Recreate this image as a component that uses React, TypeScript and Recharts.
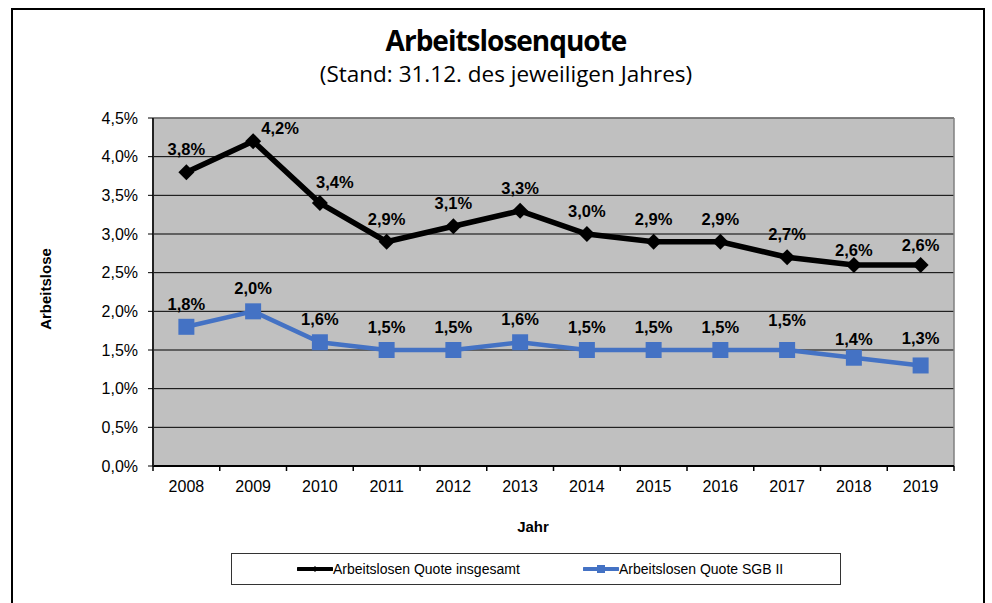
import React from "react";
import {
  LineChart, Line, XAxis, YAxis, CartesianGrid, ReferenceLine, LabelList,
} from "recharts";

const years = ["2008", "2009", "2010", "2011", "2012", "2013", "2014", "2015", "2016", "2017", "2018", "2019"];
const quoteInsgesamt = [3.8, 4.2, 3.4, 2.9, 3.1, 3.3, 3.0, 2.9, 2.9, 2.7, 2.6, 2.6];
const quoteSgb2 = [1.8, 2.0, 1.6, 1.5, 1.5, 1.6, 1.5, 1.5, 1.5, 1.5, 1.4, 1.3];
const yTicks = [0, 0.5, 1, 1.5, 2, 2.5, 3, 3.5, 4, 4.5];

const W = 992;
const H = 603;
const PLOT = { left: 153, right: 954, top: 118, bottom: 466 };
const BAND = (PLOT.right - PLOT.left) / years.length;
const ARIAL = "'Liberation Sans', Arial, sans-serif";
const BLUE = "#4472C4";

const data = years.map((year, i) => ({
  x: i,
  year,
  total: quoteInsgesamt[i],
  sgb: quoteSgb2[i],
}));

const pct = (v: number) => v.toFixed(1).replace(".", ",") + "%";

// label nudges (Excel labels that were moved by hand)
const nudgeTotal: Record<number, [number, number]> = {
  1: [27, -13], 2: [15, -21], 10: [0, -15], 11: [0, -20],
};
const nudgeSgb: Record<number, [number, number]> = {
  9: [0, -30], 10: [0, -19], 11: [0, -27],
};

const makeLabel = (nudge: Record<number, [number, number]>) => (props: any) => {
  const { x, y, value, index } = props;
  const [dx, dy] = nudge[index] ?? [0, -23];
  return (
    <text
      x={x + dx}
      y={y + dy + 6}
      textAnchor="middle"
      fontFamily={ARIAL}
      fontWeight="bold"
      fontSize={16.5}
      fill="#000"
    >
      {pct(value)}
    </text>
  );
};

const Diamond = (props: any) => {
  const { cx, cy } = props;
  if (cx == null || cy == null) return null;
  const r = 8;
  return (
    <polygon
      points={`${cx},${cy - r} ${cx + r},${cy} ${cx},${cy + r} ${cx - r},${cy}`}
      fill="#000"
    />
  );
};

const Square = (props: any) => {
  const { cx, cy } = props;
  if (cx == null || cy == null) return null;
  const s = 16;
  return <rect x={cx - s / 2} y={cy - s / 2} width={s} height={s} fill={BLUE} />;
};

const YearTick = (props: any) => {
  const { x, y, payload, index } = props;
  const last = index === years.length - 1;
  return (
    <g>
      <line x1={x - BAND / 2} y1={y} x2={x - BAND / 2} y2={y + 5} stroke="#000" strokeWidth={1.5} />
      {last && <line x1={x + BAND / 2} y1={y} x2={x + BAND / 2} y2={y + 5} stroke="#000" strokeWidth={1.5} />}
      <text x={x} y={y + 26} textAnchor="middle" fontFamily={ARIAL} fontSize={16} fill="#000">
        {years[payload.value]}
      </text>
    </g>
  );
};

function LegendBox() {
  const item = (label: string, color: string, marker: "diamond" | "square") => (
    <div style={{ display: "flex", alignItems: "center" }}>
      <svg width={36} height={12}>
        <line x1={1} y1={6} x2={35} y2={6} stroke={color} strokeWidth={4} strokeLinecap="round" />
        {marker === "diamond" ? (
          <polygon points="18,3 21,6 18,9 15,6" fill={color} />
        ) : (
          <rect x={14} y={2} width={8} height={8} fill={color} />
        )}
      </svg>
      <span>{label}</span>
    </div>
  );
  return (
    <div
      style={{
        position: "absolute", left: 231, top: 553, width: 610, height: 32,
        boxSizing: "border-box", border: "1px solid #333", background: "#fff",
        display: "flex", alignItems: "center", fontFamily: ARIAL, fontSize: 14, color: "#000",
      }}
    >
      <div style={{ position: "absolute", left: 65 }}>{item("Arbeitslosen Quote insgesamt", "#000", "diamond")}</div>
      <div style={{ position: "absolute", left: 351 }}>{item("Arbeitslosen Quote SGB II", BLUE, "square")}</div>
    </div>
  );
}

export default function App() {
  return (
    <div style={{ position: "absolute", left: 0, top: 0, width: W, height: H, overflow: "hidden", background: "#fff" }}>
      <div
        style={{
          position: "absolute", left: 11, top: 8, width: 974, height: 640,
          boxSizing: "border-box", border: "2.5px solid #000",
        }}
      />
      <div
        style={{
          position: "absolute", left: 256, top: 21, width: 500, textAlign: "center",
          fontFamily: "'Open Sans', sans-serif", fontWeight: 700, fontSize: 28, letterSpacing: -1,
          lineHeight: "38px", color: "#000",
        }}
      >
        Arbeitslosenquote
      </div>
      <div
        style={{
          position: "absolute", left: 256, top: 58, width: 500, textAlign: "center",
          fontFamily: "'Open Sans', sans-serif", fontSize: 22.5, lineHeight: "32px", color: "#000",
        }}
      >
        (Stand: 31.12. des jeweiligen Jahres)
      </div>
      <div
        style={{
          position: "absolute", left: 45, top: 289, transform: "translate(-50%, -50%) rotate(-90deg)",
          fontFamily: ARIAL, fontWeight: 700, fontSize: 15, whiteSpace: "nowrap", color: "#000",
        }}
      >
        Arbeitslose
      </div>
      <div
        style={{
          position: "absolute", left: 533, top: 526, transform: "translate(-50%, -50%)",
          fontFamily: ARIAL, fontWeight: 700, fontSize: 15, color: "#000",
        }}
      >
        Jahr
      </div>

      <div style={{ position: "absolute", left: 0, top: 0 }}>
        <LineChart
          width={W}
          height={H}
          data={data}
          margin={{ top: PLOT.top, right: W - PLOT.right, left: PLOT.left - 60, bottom: H - PLOT.bottom - 30 }}
        >
          <CartesianGrid vertical={false} stroke="#000" strokeWidth={1} fill="#C0C0C0" fillOpacity={1} />
          <XAxis
            dataKey="x"
            type="number"
            domain={[-0.5, 11.5]}
            ticks={years.map((_, i) => i)}
            interval={0}
            tickLine={false}
            tickSize={0}
            tickMargin={0}
            axisLine={{ stroke: "#000", strokeWidth: 2 }}
            tick={<YearTick />}
            height={30}
          />
          <YAxis
            domain={[0, 4.5]}
            ticks={yTicks}
            interval={0}
            tickFormatter={pct}
            tick={{ fill: "#000", fontSize: 16, fontFamily: ARIAL }}
            tickLine={{ stroke: "#000" }}
            tickSize={5}
            tickMargin={10}
            axisLine={{ stroke: "#222", strokeWidth: 2 }}
            width={60}
          />
          <ReferenceLine y={4.5} stroke="#808080" strokeWidth={1.5} />
          <ReferenceLine x={11.5} stroke="#808080" strokeWidth={1.5} />
          <Line
            dataKey="total"
            name="Arbeitslosen Quote insgesamt"
            stroke="#000"
            strokeWidth={5.5}
            dot={<Diamond />}
            activeDot={false}
            isAnimationActive={false}
          >
            <LabelList dataKey="total" content={makeLabel(nudgeTotal)} />
          </Line>
          <Line
            dataKey="sgb"
            name="Arbeitslosen Quote SGB II"
            stroke={BLUE}
            strokeWidth={4.5}
            dot={<Square />}
            activeDot={false}
            isAnimationActive={false}
          >
            <LabelList dataKey="sgb" content={makeLabel(nudgeSgb)} />
          </Line>
        </LineChart>
      </div>
      <LegendBox />
    </div>
  );
}
